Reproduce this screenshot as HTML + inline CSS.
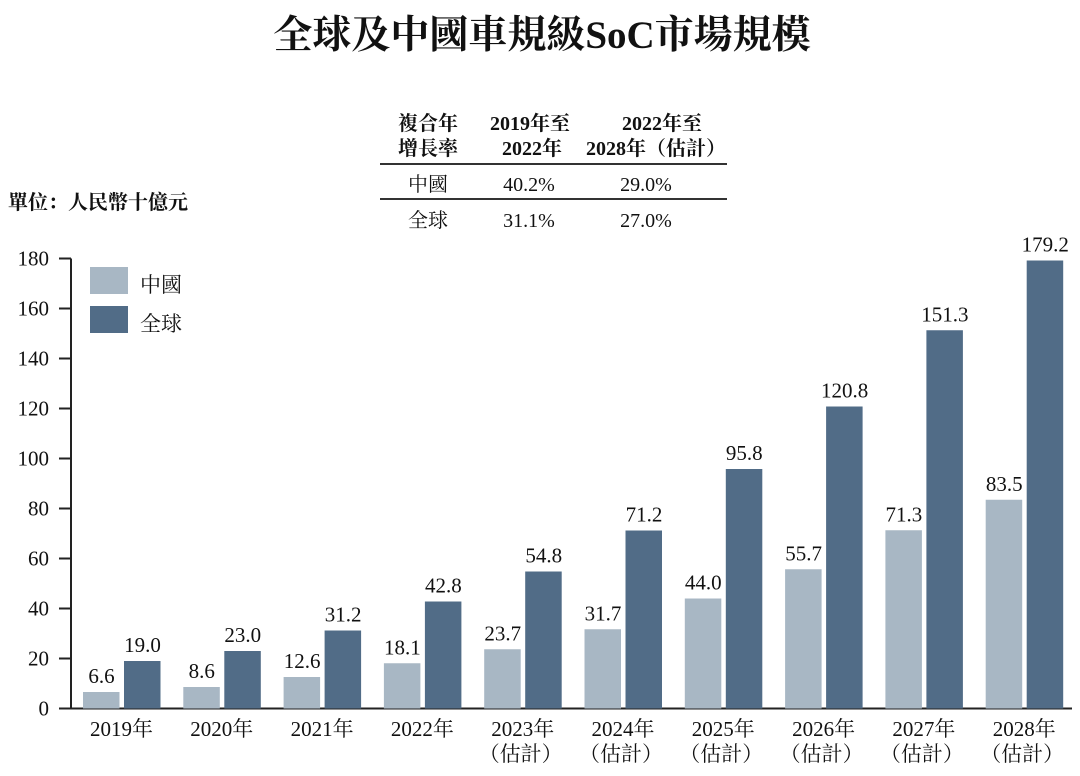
<!DOCTYPE html>
<html><head><meta charset="utf-8"><style>
body{margin:0;background:#fff;}
svg text{font-family:"Liberation Serif","Noto Serif CJK SC","Noto Sans CJK TC",serif;fill:#111;}
</style></head><body>
<svg width="1080" height="771" viewBox="0 0 1080 771" xmlns="http://www.w3.org/2000/svg">
<text x="542" y="48" text-anchor="middle" font-size="39" font-weight="bold">全球及中國車規級SoC市場規模</text>
<text x="8" y="209" font-size="20" font-weight="bold" font-family="Liberation Sans,Noto Sans CJK TC,sans-serif">單位：人民幣十億元</text>
<g font-size="20">
<text x="428" y="130" text-anchor="middle" font-weight="bold">複合年</text>
<text x="428" y="155" text-anchor="middle" font-weight="bold">增長率</text>
<text x="530" y="130" text-anchor="middle" font-weight="bold">2019年至</text>
<text x="532" y="155" text-anchor="middle" font-weight="bold">2022年</text>
<text x="662" y="130" text-anchor="middle" font-weight="bold">2022年至</text>
<text x="656" y="155" text-anchor="middle" font-weight="bold">2028年（估計）</text>
<line x1="380" y1="164" x2="727" y2="164" stroke="#333" stroke-width="2"/>
<text x="428" y="191" text-anchor="middle">中國</text>
<text x="529" y="191" text-anchor="middle">40.2%</text>
<text x="646" y="191" text-anchor="middle">29.0%</text>
<line x1="380" y1="199" x2="727" y2="199" stroke="#333" stroke-width="2"/>
<text x="428" y="227" text-anchor="middle">全球</text>
<text x="529" y="227" text-anchor="middle">31.1%</text>
<text x="646" y="227" text-anchor="middle">27.0%</text>
</g>
<g>
<rect x="90" y="267" width="38" height="27" fill="#a8b7c4"/>
<text x="140" y="292" font-size="21">中國</text>
<rect x="90" y="306" width="38" height="27" fill="#516c87"/>
<text x="140" y="331" font-size="21">全球</text>
</g>
<g id="axes"></g>
<g id="bars"></g>
</svg>
<script>
const categories=["2019年","2020年","2021年","2022年","2023年","2024年","2025年","2026年","2027年","2028年"];
const estimated=[false,false,false,false,true,true,true,true,true,true];
const chinaValues=[6.6,8.6,12.6,18.1,23.7,31.7,44.0,55.7,71.3,83.5];
const globalValues=[19.0,23.0,31.2,42.8,54.8,71.2,95.8,120.8,151.3,179.2];
const yTicks=[0,20,40,60,80,100,120,140,160,180];
const NS="http://www.w3.org/2000/svg";
const y0=708.5,pxPerUnit=2.5;
function y(v){return y0-v*pxPerUnit;}
function xc(i){return 121.5+i*100.3;}
function mk(t,a,p){const e=document.createElementNS(NS,t);for(const k in a)e.setAttribute(k,a[k]);p.appendChild(e);return e;}
const ax=document.getElementById('axes'),bg=document.getElementById('bars');
const yl=mk('line',{x1:71,y1:y(180),x2:71,y2:y0,stroke:'#222','stroke-width':2},ax);


const xl=mk('line',{x1:59,y1:y0,x2:1072,y2:y0,stroke:'#222','stroke-width':2},ax);


yTicks.forEach(t=>{
 mk('line',{x1:59,y1:y(t),x2:71,y2:y(t),stroke:'#222','stroke-width':2},ax);
 const tx=mk('text',{x:49,y:y(t)+7,'text-anchor':'end','font-size':21},ax);
 tx.textContent=t;
 
 
});
categories.forEach((c,i)=>{
 const cx=xc(i);
 const r1=mk('rect',{x:cx-38.5,y:y(chinaValues[i]),width:36.5,height:chinaValues[i]*pxPerUnit,fill:'#a8b7c4'},bg);
 
 
 const r2=mk('rect',{x:cx+2.5,y:y(globalValues[i]),width:36.5,height:globalValues[i]*pxPerUnit,fill:'#516c87'},bg);
 
 
 const l1=mk('text',{x:cx-20,y:y(chinaValues[i])-9,'text-anchor':'middle','font-size':21},bg);
 l1.textContent=chinaValues[i].toFixed(1);
 
 
 const l2=mk('text',{x:cx+21,y:y(globalValues[i])-9,'text-anchor':'middle','font-size':21},bg);
 l2.textContent=globalValues[i].toFixed(1);
 
 
 const cl=mk('text',{x:cx,y:736,'text-anchor':'middle','font-size':21},bg);
 cl.textContent=c;
 
 
 if(estimated[i]){
  const el=mk('text',{x:cx-2,y:761,'text-anchor':'middle','font-size':21},bg);
  el.textContent='（估計）';
  
  
 }
});
</script>
</body></html>
